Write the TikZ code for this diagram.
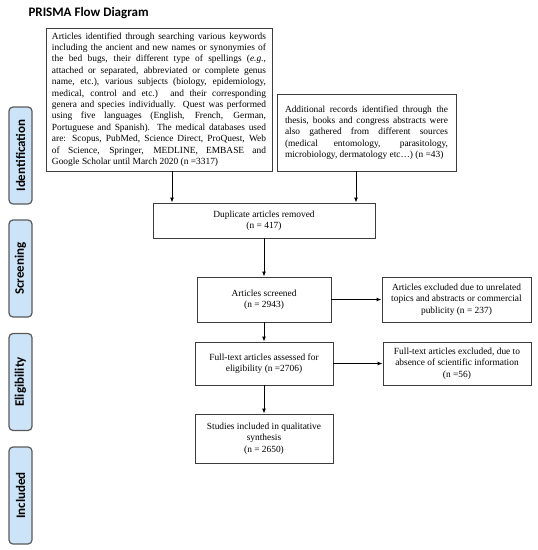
\documentclass[tikz,border=0pt]{standalone}
\usepackage{fontspec}
\setmainfont{Liberation Serif}
\newfontfamily\labelfont{Carlito}
\usetikzlibrary{arrows.meta}
\definecolor{phasefill}{RGB}{205,228,248}
\definecolor{phaseline}{RGB}{90,90,90}
\definecolor{boxline}{RGB}{60,60,60}
\newcommand\jline[2]{\makebox[#1][s]{#2}}
\begin{document}
\begin{tikzpicture}[x=1pt,y=-1pt,
  flowbox/.style={draw=boxline, line width=0.9pt, fill=white, inner sep=0pt,
    font=\fontsize{9.4}{11.4}\selectfont, align=center},
  phase/.style={draw=phaseline, line width=1.2pt, fill=phasefill, rounded corners=4pt,
    rotate=90, minimum width=97pt, minimum height=23pt, inner sep=0pt,
    font=\labelfont\bfseries\fontsize{13}{15}\selectfont},
  arr/.style={-{Latex[length=5pt,width=4pt]}, line width=0.9pt, black}]
\useasboundingbox (0,0) rectangle (538,550);

\node[anchor=base west, font=\labelfont\bfseries\fontsize{13}{15}\selectfont] (title) at (25,16) {PRISMA Flow Diagram};

\node[flowbox, minimum width=226pt, minimum height=143pt, align=left] (box1) at (159,99.5) {%
\jline{214pt}{Articles identified through searching various keywords}\\
\jline{214pt}{including the ancient and new names or synonymies of}\\
\jline{214pt}{the bed bugs, their different type of spellings (\textit{e.g.},}\\
\jline{214pt}{attached or separated, abbreviated or complete genus}\\
\jline{214pt}{name, etc.), various subjects (biology, epidemiology,}\\
\jline{214pt}{medical, control and etc.) and their corresponding}\\
\jline{214pt}{genera and species individually. Quest was performed}\\
\jline{214pt}{using five languages (English, French, German,}\\
\jline{214pt}{Portuguese and Spanish). The medical databases used}\\
\jline{214pt}{are: Scopus, PubMed, Science Direct, ProQuest, Web}\\
\jline{214pt}{of Science, Springer, MEDLINE, EMBASE and}\\
Google Scholar until March 2020 (n =3317)};

\node[flowbox, minimum width=179pt, minimum height=77pt, align=left] (box2) at (366.5,132.5) {%
\jline{163pt}{Additional records identified through the}\\
\jline{163pt}{thesis, books and congress abstracts were}\\
\jline{163pt}{also gathered from different sources}\\
\jline{163pt}{(medical entomology, parasitology,}\\
microbiology, dermatology etc…) (n =43)};

\node[flowbox, minimum width=222pt, minimum height=35pt] (dup) at (264,220.5) {Duplicate articles removed\\(n = 417)};
\node[flowbox, minimum width=134pt, minimum height=45pt] (scr) at (264,299.5) {Articles screened\\(n = 2943)};
\node[flowbox, minimum width=149pt, minimum height=45pt] (exc1) at (456.5,299.5) {Articles excluded due to unrelated\\topics and abstracts or commercial\\publicity (n = 237)};
\node[flowbox, minimum width=138pt, minimum height=43pt] (full) at (264,363.5) {Full-text articles assessed for\\eligibility (n =2706)};
\node[flowbox, minimum width=148pt, minimum height=43pt] (exc2) at (457,363.5) {Full-text articles excluded, due to\\absence of scientific information\\(n =56)};
\node[flowbox, minimum width=138pt, minimum height=49pt] (inc) at (264,438.5) {Studies included in qualitative\\synthesis\\(n = 2650)};

\node[phase] (pid) at (20.5,155.5) {Identification};
\node[phase] (psc) at (20.5,268.5) {Screening};
\node[phase] (pel) at (20.5,382) {Eligibility};
\node[phase] (pin) at (20.5,495.5) {Included};

\draw[arr] ([xshift=13pt]box1.south) -- ([xshift=13pt]box1.south |- dup.north);
\draw[arr] ([xshift=-10.5pt]box2.south) -- ([xshift=-10.5pt]box2.south |- dup.north);
\draw[arr] (dup.south) -- (scr.north);
\draw[arr] (scr.east) -- (exc1.west);
\draw[arr] (scr.south) -- (full.north);
\draw[arr] (full.east) -- (exc2.west);
\draw[arr] (full.south) -- (inc.north);
\end{tikzpicture}
\end{document}
